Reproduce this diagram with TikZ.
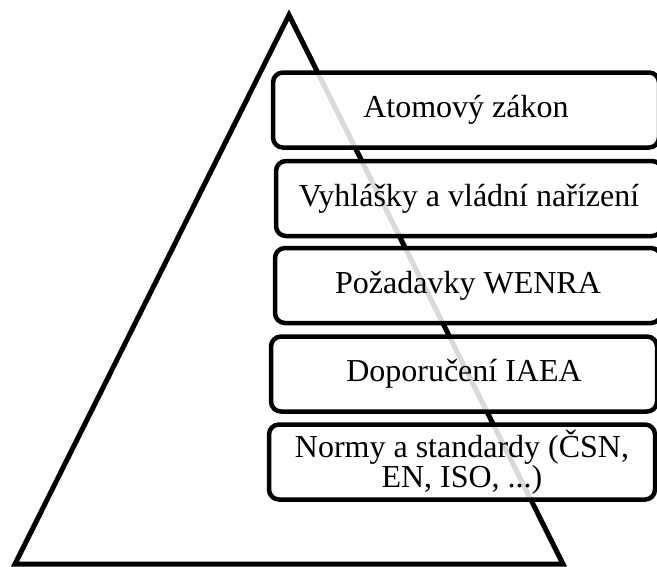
\documentclass[tikz,border=0pt]{standalone}
\usepackage{fontspec}
\setmainfont{Liberation Serif}
\begin{document}
\begin{tikzpicture}[x=1pt,y=-1pt,
  tier/.style={draw=black,line width=4.5pt,rounded corners=10pt,
    fill=white,fill opacity=0.85,text opacity=1,
    minimum width=386pt,minimum height=75pt,inner sep=0pt,
    font=\fontsize{32}{30}\selectfont,align=center},
  pyr/.style={draw=black,line width=5pt,line join=miter}]
\useasboundingbox (0,0) rectangle (657,566);
\coordinate (apex) at (289,15);
\coordinate (bl) at (15,564);
\coordinate (br) at (563,564);
\draw[pyr] (apex) -- (br) -- (bl) -- cycle;
\node[tier] (t1) at (466,110) {Atomový zákon};
\node[tier] (t2) at (469,198.5) {Vyhlášky a vládní nařízení};
\node[tier] (t3) at (468,285.5) {Požadavky WENRA};
\node[tier] (t4) at (464,374) {Doporučení IAEA};
\node[tier] (t5) at (462,462) {Normy a standardy (ČSN,\\EN, ISO, ...)};
\end{tikzpicture}
\end{document}
